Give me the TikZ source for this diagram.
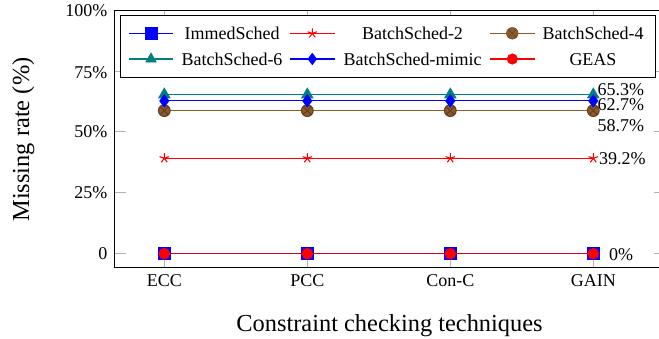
\documentclass[tikz,border=0pt]{standalone}
\usepackage{fontspec}
\setmainfont{Liberation Serif}
\usetikzlibrary{plotmarks}
\definecolor{cbrown}{HTML}{8C5A2B}
\definecolor{cteal}{HTML}{008080}
\begin{document}
\begin{tikzpicture}[x=1pt,y=-1pt,
  tickline/.style={draw=gray!60, line width=0.9pt},
  ticklab/.style={font=\fontsize{18}{20}\selectfont, inner sep=0pt},
  series/.style={line width=1.1pt},
  axlab/.style={font=\fontsize{24.4}{28}\selectfont, inner sep=0pt},
  frameline/.style={line width=1pt, draw=black},
  sq/.style={mark=square*, mark size=5.85pt, mark options={solid}},
  st/.style={mark=star, mark size=5pt, mark options={solid}},
  ot/.style={mark=otimes*, mark size=5.85pt, mark options={solid, fill=cbrown, draw=cbrown!70!black}},
  tri/.style={mark=triangle*, mark size=6.2pt, mark options={solid}},
  dia/.style={mark=diamond*, mark size=5.85pt, mark options={solid}},
  cir/.style={mark=*, mark size=5.3pt, mark options={solid}},
]
\useasboundingbox (0,0) rectangle (659,338);
% grid ticks
\foreach \yy in {10,71.9,131.8,192.8,253.7} {
  \draw[tickline] (114.5,\yy) -- ++(11,0);
  \draw[tickline] (664.5,\yy) -- ++(-11,0);
}
\foreach \xx in {164.3,307.3,450.3,593.3} {
  \draw[tickline] (\xx,267.5) -- ++(0,-11);
  \draw[tickline] (\xx,10) -- ++(0,11);
}
% y tick labels
\node[ticklab, anchor=base east] (y100) at (107.5,16.2) {100\%};
\node[ticklab, anchor=base east] (y75) at (107.5,78.0) {75\%};
\node[ticklab, anchor=base east] (y50) at (107.5,137.9) {50\%};
\node[ticklab, anchor=base east] (y25) at (107.5,198.9) {25\%};
\node[ticklab, anchor=base east] (y0) at (107.5,259.8) {0};
% x tick labels
\node[ticklab, anchor=base] (xecc) at (164.3,286.5) {ECC};
\node[ticklab, anchor=base] (xpcc) at (307.3,286.5) {PCC};
\node[ticklab, anchor=base] (xconc) at (450.3,286.5) {Con-C};
\node[ticklab, anchor=base] (xgain) at (593.3,286.5) {GAIN};
% axis labels
\node[axlab, anchor=base] (xlabel) at (389.5,331) {Constraint checking techniques};
\node[axlab, anchor=base, rotate=90] (ylabel) at (29,139.5) {Missing rate (\%)};
% data series
\draw[blue, series] plot[sq] coordinates {(164.3,253.7) (307.3,253.7) (450.3,253.7) (593.3,253.7)};
\draw[red, series] plot[st] coordinates {(164.3,158.2) (307.3,158.2) (450.3,158.2) (593.3,158.2)};
\draw[cbrown, series] plot[ot] coordinates {(164.3,110.6) (307.3,110.6) (450.3,110.6) (593.3,110.6)};
\draw[cteal, series] plot[tri] coordinates {(164.3,94.6) (307.3,94.6) (450.3,94.6) (593.3,94.6)};
\draw[blue, series] plot[dia] coordinates {(164.3,100.9) (307.3,100.9) (450.3,100.9) (593.3,100.9)};
\draw[red, series, draw opacity=0.85] plot[cir] coordinates {(164.3,253.7) (307.3,253.7) (450.3,253.7) (593.3,253.7)};
% value labels
\node[ticklab, anchor=base west] (v653) at (597.3,95) {65.3\%};
\node[ticklab, anchor=base west] (v627) at (597.3,110.7) {62.7\%};
\node[ticklab, anchor=base west] (v587) at (597.3,131) {58.7\%};
\node[ticklab, anchor=base west] (v392) at (599,164) {39.2\%};
\node[ticklab, anchor=base west] (v0) at (609,260.3) {0\%};
% axis frame
\draw[frameline] (114.5,10) rectangle (664.5,267.5);
% legend
\draw[frameline, fill=white] (120.3,15.7) rectangle (655,77.7);
\draw[blue, series] (129,33.3) -- (173.3,33.3);
\draw[blue] plot[only marks, sq] coordinates {(151,33.3)};
\node[ticklab, anchor=base] (l1) at (232,39.3) {ImmedSched};
\draw[red, series] (290,33.3) -- (335,33.3);
\draw[red, line width=1pt] plot[only marks, st] coordinates {(312.3,33.3)};
\node[ticklab, anchor=base] (l2) at (412.5,39.3) {BatchSched-2};
\draw[cbrown, series] (490,33.3) -- (535,33.3);
\draw[cbrown] plot[only marks, ot] coordinates {(512.3,33.3)};
\node[ticklab, anchor=base] (l3) at (593,39.3) {BatchSched-4};
\draw[cteal, series] (129,59) -- (173.3,59);
\draw[cteal] plot[only marks, tri] coordinates {(151,59)};
\node[ticklab, anchor=base] (l4) at (232,65) {BatchSched-6};
\draw[blue, series] (290,59) -- (335,59);
\draw[blue] plot[only marks, dia] coordinates {(312.3,59)};
\node[ticklab, anchor=base] (l5) at (412.5,65) {BatchSched-mimic};
\draw[red, series] (490,59) -- (535,59);
\draw[red] plot[only marks, cir] coordinates {(512.3,59)};
\node[ticklab, anchor=base] (l6) at (593,65) {GEAS};
\end{tikzpicture}
\end{document}
